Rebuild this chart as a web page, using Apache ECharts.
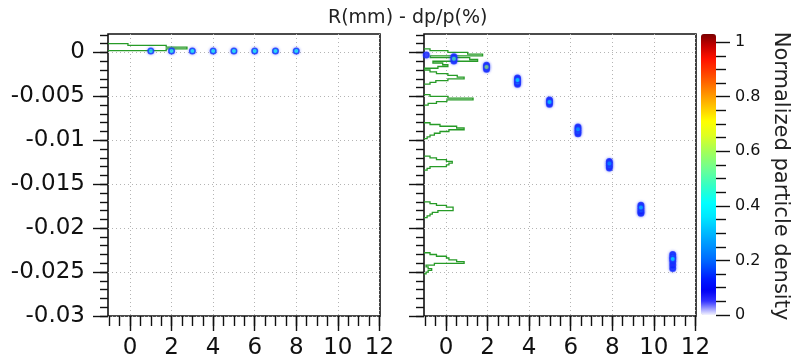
<!DOCTYPE html>
<html>
<head>
<meta charset="utf-8">
<script src="https://cdn.jsdelivr.net/npm/echarts@6/dist/echarts.min.js"></script>
<style>
  html, body { margin: 0; padding: 0; background: #ffffff; }
  #chart { width: 793px; height: 363px; }
</style>
</head>
<body>
<div id="chart"></div>
<script>
// ---------------- data ----------------
// axis tick values
const rTicks = [0, 2, 4, 6, 8, 10, 12];
const dpTicks = [-0.03, -0.025, -0.02, -0.015, -0.01, -0.005, 0];

// left panel: beam spots (R in mm, dp/p in %, normalized density at spot core)
const leftR = [1, 2, 3, 4, 5, 6, 7, 8];
const leftDp = [0.00016, 0.00016, 0.00016, 0.00016, 0.00016, 0.00016, 0.00016, 0.00016];
const leftDensity = [0.44, 0.44, 0.42, 0.42, 0.42, 0.42, 0.42, 0.42];

// left panel: dp/p projection (bin centres, bar length in mm from the frame)
const leftProfileDp = [0.0009, 0.0007, 0.0005, 0.0003, 0.0001];
const leftProfileLen = [0.96, 2.8, 3.8, 2.8, 0];

// right panel: density cells of each spot
const rightR = [
  -0.95,
  0.38, 0.38, 0.38,
  1.95, 1.95, 1.95,
  3.44, 3.44, 3.44, 3.44,
  4.98, 4.98, 4.98,
  6.35, 6.35, 6.35, 6.35,
  7.86, 7.86, 7.86, 7.86,
  9.38, 9.38, 9.38, 9.38, 9.38,
  10.91, 10.91, 10.91, 10.91, 10.91, 10.91
];
const rightDp = [
  -0.0003,
  -0.00048, -0.00073, -0.00096,
  -0.00145, -0.00167, -0.0019,
  -0.00292, -0.00315, -0.0034, -0.00362,
  -0.0054, -0.00565, -0.0059,
  -0.0085, -0.00875, -0.009, -0.00925,
  -0.0124, -0.01265, -0.0129, -0.01315,
  -0.0174, -0.01765, -0.0179, -0.01815, -0.0183,
  -0.0230, -0.0233, -0.0235, -0.0238, -0.0242, -0.0246
];
const rightDensity = [
  0.06,
  0.12, 0.5, 0.14,
  0.12, 0.58, 0.14,
  0.1, 0.38, 0.3, 0.1,
  0.12, 0.36, 0.12,
  0.1, 0.28, 0.24, 0.1,
  0.1, 0.26, 0.22, 0.1,
  0.12, 0.32, 0.22, 0.12, 0.1,
  0.14, 0.3, 0.38, 0.16, 0.08, 0.14
];

// right panel: dp/p projection (bin centres, bar length in mm from the frame)
const rightProfileDp = [
  0.0003, 0.0001, -0.0001, -0.0003, -0.0005, -0.0007, -0.0009, -0.0011, -0.0013, -0.0015, -0.0017, -0.0019,
  -0.0021, -0.0023, -0.0025, -0.0027, -0.0029, -0.0031, -0.0033, -0.0035, -0.0037,
  -0.0049, -0.0051, -0.0053, -0.0055, -0.0057, -0.0059, -0.0061,
  -0.0081, -0.0083, -0.0085, -0.0087, -0.0089, -0.0091, -0.0093, -0.0095, -0.0097, -0.0099,
  -0.0119, -0.0121, -0.0123, -0.0125, -0.0127, -0.0129, -0.0131, -0.0133, -0.0135,
  -0.0171, -0.0173, -0.0175, -0.0177, -0.0179, -0.0181, -0.0183, -0.0185, -0.0187, -0.0189,
  -0.0229, -0.0231, -0.0233, -0.0235, -0.0237, -0.0239, -0.0241, -0.0243, -0.0245, -0.0247, -0.0249, -0.0251, -0.0253
];
const rightProfileLen = [
  0.29, 1.15, 2.1, 2.82, 0.3, 2.2, 2.58, 0.43, 0.9, 1.15, 0.67, 0,
  0.29, 0.6, 1.15, 1.6, 1.93, 1.15, 0.57, 0.29, 0,
  0.29, 1.15, 2.36, 1.1, 0.6, 0.2, 0,
  0.29, 0.77, 1.57, 1.93, 1.2, 0.77, 0.5, 0.29, 0.15, 0,
  0.29, 0.6, 1.08, 1.36, 1.2, 1.08, 0.29, 0.15, 0,
  0.29, 0.6, 1.08, 1.4, 1.4, 0.67, 0.4, 0.29, 0.15, 0,
  0.29, 0.6, 1.08, 1.2, 1.57, 1.93, 0.5, 0.1, 0.2, 0.37, 0.2, 0.1, 0
];

// ---------------- layout & style ----------------
const R_MIN = -1.06, R_MAX = 12.03;
const DP_MIN = -0.03, DP_MAX = 0.0021;
const BIN = 0.0002;
const FONT = 'DejaVu Sans';
const INK = '#111111';
const PANEL = { top: 34, width: 272, height: 282 };
const BAR = { left: 701, top: 34, width: 15, height: 281, max: 1.03 };

// colour scale of the density map
const colorStops = [
  [0.00, '#f4f4ff'], [0.02, '#a8a8ff'], [0.05, '#3434ff'], [0.09, '#0000f5'],
  [0.13, '#0018ff'], [0.20, '#0068ff'], [0.28, '#00a8ff'], [0.36, '#00e8ff'],
  [0.41, '#00ffff'], [0.47, '#30ffc8'], [0.53, '#68ff98'], [0.60, '#a4ff58'],
  [0.66, '#e0ff20'], [0.71, '#ffff00'], [0.76, '#ffc800'], [0.82, '#ff8800'],
  [0.88, '#ff4800'], [0.94, '#ff1000'], [0.99, '#c00000'], [1.03, '#7a0000']
];
function hexToRgb(h) { return [1, 3, 5].map(i => parseInt(h.substr(i, 2), 16)); }
function colorAt(v) {
  for (let i = 1; i < colorStops.length; i++) {
    const [v1, c1] = colorStops[i];
    const [v0, c0] = colorStops[i - 1];
    if (v <= v1) {
      const t = (v - v0) / (v1 - v0);
      const a = hexToRgb(c0), b = hexToRgb(c1);
      return 'rgb(' + a.map((x, k) => Math.round(x + (b[k] - x) * t)).join(',') + ')';
    }
  }
  return colorStops[colorStops.length - 1][1];
}
const paletteSteps = 104;
const palette = [];
for (let i = 0; i < paletteSteps; i++) palette.push(colorAt(BAR.max * i / (paletteSteps - 1)));

// minor tick positions
const rMinor = [];
for (let k = -2; k <= 24; k++) rMinor.push(k * 0.5);
const dpMinor = [];
for (let k = -30; k <= 2; k++) dpMinor.push(k * 0.001);

// ---------------- helpers ----------------
// step outline of a dp/p projection, drawn sideways from the left frame
function profilePaths(centres, lengths) {
  const paths = [];
  let cur = null;
  for (let i = 0; i < centres.length; i++) {
    const top = centres[i] + BIN / 2, bottom = centres[i] - BIN / 2;
    if (lengths[i] > 0) {
      if (!cur) cur = [[R_MIN, top]];
      cur.push([R_MIN + lengths[i], top], [R_MIN + lengths[i], bottom]);
    } else if (cur) {
      cur.push([R_MIN, top]);
      paths.push({ coords: cur });
      cur = null;
    }
  }
  if (cur) paths.push({ coords: cur });
  return paths;
}

function cells(rs, dps, dens) {
  const pts = rs.map((r, i) => [r, dps[i], dens[i]]);
  return pts.sort((a, b) => a[2] - b[2]);
}

const tickStyle = { color: INK, width: 1.4 };
const labelStyle = { fontFamily: FONT, fontSize: 23, color: INK };
const gridLine = { show: true, lineStyle: { color: '#b4b4b4', type: [1, 3], width: 1 } };

function panelAxes(gridIndex, showYLabels) {
  const x = [
    {
      type: 'value', gridIndex, min: R_MIN, max: R_MAX, position: 'bottom',
      axisLine: { show: false, onZero: false },
      axisTick: { customValues: rTicks, length: 15, lineStyle: tickStyle },
      axisLabel: Object.assign({ customValues: rTicks, margin: 21 }, labelStyle),
      splitLine: gridLine
    },
    {
      type: 'value', gridIndex, min: R_MIN, max: R_MAX, position: 'bottom',
      axisLine: { show: false, onZero: false },
      axisTick: { customValues: rMinor, length: 10, lineStyle: tickStyle },
      axisLabel: { show: false },
      splitLine: { show: false }
    }
  ];
  const y = [
    {
      type: 'value', gridIndex, min: DP_MIN, max: DP_MAX, position: 'left',
      axisLine: { show: false, onZero: false },
      axisTick: { customValues: dpTicks, length: 15, lineStyle: tickStyle },
      axisLabel: Object.assign({
        show: showYLabels, customValues: dpTicks, margin: 23,
        formatter: v => String(Number(Number(v).toFixed(4)))
      }, labelStyle),
      splitLine: gridLine
    },
    {
      type: 'value', gridIndex, min: DP_MIN, max: DP_MAX, position: 'left',
      axisLine: { show: false, onZero: false },
      axisTick: { customValues: dpMinor, length: 8, lineStyle: tickStyle },
      axisLabel: { show: false },
      splitLine: { show: false }
    }
  ];
  return { x, y };
}

const leftAxes = panelAxes(0, true);
const rightAxes = panelAxes(1, false);

const spotStyle = {
  borderColor: '#1a30ff', borderWidth: 1.5,
  shadowBlur: 3, shadowColor: 'rgba(40,60,255,0.5)'
};
const profileStyle = { color: '#279b27', width: 1.3, opacity: 1 };

const chart = echarts.init(document.getElementById('chart'), null, { renderer: 'canvas' });

chart.setOption({
  animation: false,
  backgroundColor: '#ffffff',
  title: {
    text: 'R(mm) - dp/p(%)', left: 328, top: 9, padding: 0,
    textStyle: { fontFamily: FONT, fontSize: 19, fontWeight: 'normal', color: '#222' }
  },
  grid: [
    Object.assign({ left: 108, show: true, borderColor: INK, borderWidth: 1.6, backgroundColor: 'transparent' }, PANEL),
    Object.assign({ left: 424, show: true, borderColor: INK, borderWidth: 1.6, backgroundColor: 'transparent' }, PANEL),
    {
      left: BAR.left, width: BAR.width,
      top: BAR.top + BAR.height * (BAR.max - 1) / BAR.max,
      height: BAR.height / BAR.max, show: false
    }
  ],
  xAxis: leftAxes.x.concat(rightAxes.x, [{ type: 'value', gridIndex: 2, show: false, min: 0, max: 1 }]),
  yAxis: leftAxes.y.concat(rightAxes.y, [{
    type: 'value', gridIndex: 2, position: 'right', min: 0, max: 1, interval: 0.2,
    axisLine: { show: false, onZero: false },
    axisTick: { length: 14, lineStyle: tickStyle },
    minorTick: { show: true, splitNumber: 4, length: 10, lineStyle: tickStyle },
    axisLabel: { fontFamily: FONT, fontSize: 16, color: INK, margin: 19 },
    splitLine: { show: false }, minorSplitLine: { show: false }
  }]),
  visualMap: {
    type: 'continuous', min: 0, max: BAR.max, dimension: 2,
    seriesIndex: [1, 3], calculable: false, hoverLink: false,
    orient: 'vertical', left: BAR.left, top: BAR.top, padding: 0,
    itemWidth: BAR.width, itemHeight: BAR.height,
    inRange: { color: palette }
  },
  graphic: [{
    type: 'text', x: 780, y: 176, rotation: -Math.PI / 2,
    style: {
      text: 'Normalized particle density', fontFamily: FONT, fontSize: 21,
      fill: '#222', align: 'center', verticalAlign: 'middle'
    }
  }],
  series: [
    {
      type: 'lines', coordinateSystem: 'cartesian2d', xAxisIndex: 0, yAxisIndex: 0,
      polyline: true, silent: true, lineStyle: profileStyle,
      data: profilePaths(leftProfileDp, leftProfileLen)
    },
    {
      type: 'scatter', xAxisIndex: 0, yAxisIndex: 0, symbolSize: 5.5, silent: true,
      itemStyle: spotStyle, data: cells(leftR, leftDp, leftDensity)
    },
    {
      type: 'lines', coordinateSystem: 'cartesian2d', xAxisIndex: 2, yAxisIndex: 2,
      polyline: true, silent: true, lineStyle: profileStyle,
      data: profilePaths(rightProfileDp, rightProfileLen)
    },
    {
      type: 'scatter', xAxisIndex: 2, yAxisIndex: 2, symbolSize: 5.5, silent: true,
      itemStyle: spotStyle, data: cells(rightR, rightDp, rightDensity)
    }
  ]
});
</script>
</body>
</html>
